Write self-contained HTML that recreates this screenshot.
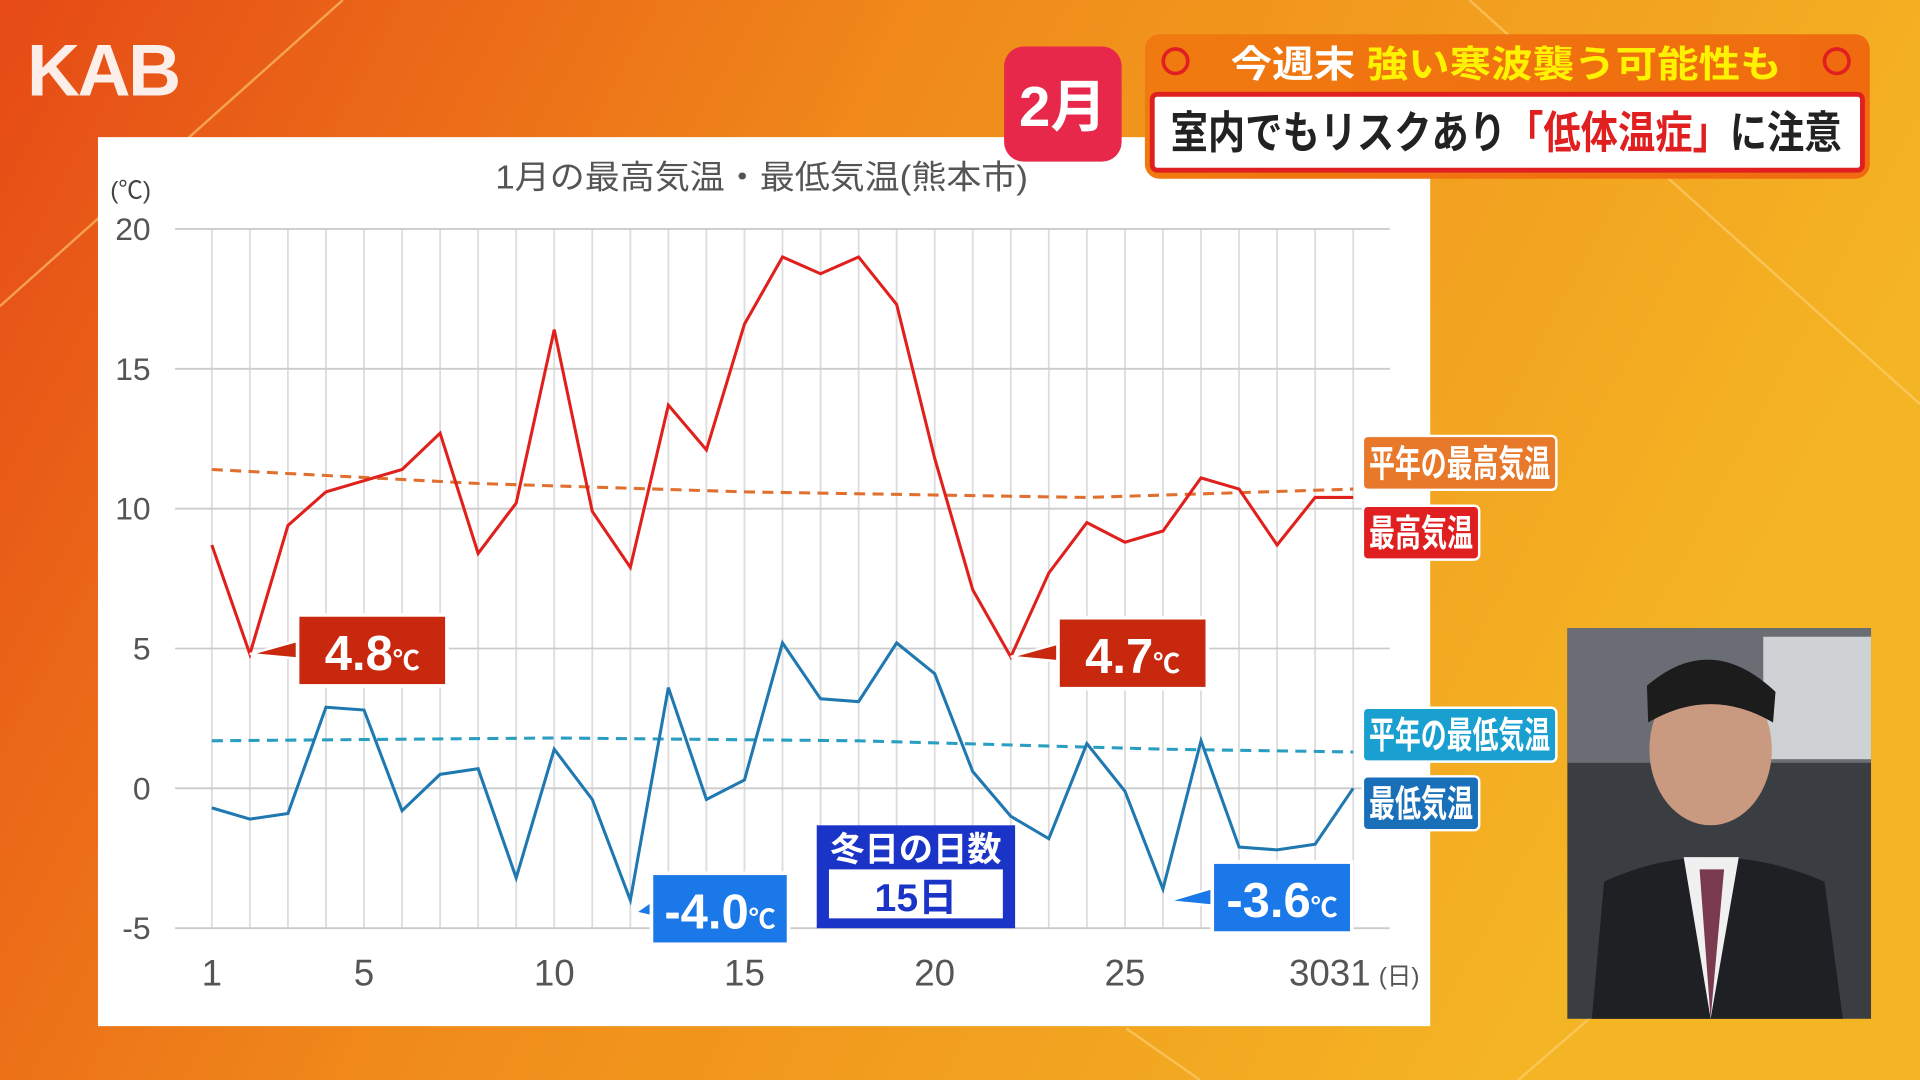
<!DOCTYPE html>
<html><head><meta charset="utf-8">
<style>
html,body{margin:0;padding:0;width:1920px;height:1080px;overflow:hidden;}
svg{display:block}
text{font-family:"Liberation Sans","Noto Sans CJK JP",sans-serif;}
</style></head>
<body>
<svg id="s" width="1920" height="1080" viewBox="0 0 1568 882" xmlns="http://www.w3.org/2000/svg">
<defs>
<linearGradient id="bg" x1="0" y1="0" x2="1" y2="0.3">
<stop offset="0" stop-color="#e64a16"/><stop offset="0.45" stop-color="#f08a1a"/><stop offset="1" stop-color="#f4b524"/>
</linearGradient>
<linearGradient id="strip" x1="0" y1="0" x2="1" y2="0">
<stop offset="0" stop-color="#f07a10"/><stop offset="1" stop-color="#f06a10"/>
</linearGradient>
</defs>
<rect width="1568" height="882" fill="url(#bg)"/>
<g stroke="#ffd27a" stroke-width="2" opacity="0.6" fill="none">
<line x1="0" y1="250" x2="280" y2="0"/><line x1="1200" y1="0" x2="1568" y2="330"/><line x1="920" y1="840" x2="980" y2="882"/><line x1="1240" y1="882" x2="1300" y2="830"/>
</g>
<text x="22" y="78" font-size="60" font-weight="bold" fill="#fff" opacity="0.9" letter-spacing="-2">KAB</text>
<rect x="80" y="112" width="1088" height="726" fill="#fff"/>
<g id="grid"></g>
<text x="90" y="162" font-size="20" fill="#444">(℃)</text>
<text x="622" y="154" font-size="27" fill="#555" text-anchor="middle" textLength="435" lengthAdjust="spacingAndGlyphs">1月の最高気温・最低気温(熊本市)</text>
<g id="plot"></g>
<text x="1126" y="804" font-size="20" fill="#555">(日)</text>
<!-- header -->
<rect x="820" y="38" width="96" height="94" rx="16" fill="#e8284a"/>
<text x="868" y="103" font-size="46" font-weight="bold" fill="#fff" text-anchor="middle">2月</text>
<rect x="935" y="28" width="592" height="118" rx="12" fill="url(#strip)"/>
<circle cx="960" cy="50" r="10" fill="none" stroke="#e02020" stroke-width="3"/>
<circle cx="1500" cy="50" r="10" fill="none" stroke="#e02020" stroke-width="3"/>
<text x="1005" y="63" font-size="30" font-weight="bold" fill="#fff" textLength="450" lengthAdjust="spacingAndGlyphs">今週末 <tspan fill="#fff200">強い寒波襲う可能性も</tspan></text>
<rect x="941" y="77" width="580" height="62" rx="4" fill="#fff" stroke="#e02020" stroke-width="4"/>
<text x="956" y="121" font-size="36" font-weight="bold" fill="#222" textLength="548" lengthAdjust="spacingAndGlyphs">室内でもリスクあり<tspan fill="#e02020">「低体温症」</tspan>に注意</text>
<!-- photo -->
<rect x="1280" y="513" width="248" height="319" fill="#3a3d42"/>
<rect x="1280" y="513" width="248" height="110" fill="#6a6e74"/>
<rect x="1440" y="520" width="88" height="100" fill="#cfd2d4"/>
<ellipse cx="1397" cy="612" rx="50" ry="62" fill="#c99a80"/>
<path d="M1345 560 Q1397 515 1450 565 L1448 590 Q1397 560 1346 590Z" fill="#1c1c1c"/>
<path d="M1300 832 L1310 720 Q1397 680 1490 720 L1505 832Z" fill="#1e2024"/>
<path d="M1375 700 L1397 832 L1420 700Z" fill="#f0f0f0"/>
<path d="M1388 710 L1397 832 L1408 710Z" fill="#7a3a50"/>
</svg>
<script>
const ns="http://www.w3.org/2000/svg";
const X=d=>173+(d-1)*31.07, Y=v=>187+(20-v)*22.84;
function el(t,a,p){const e=document.createElementNS(ns,t);for(const k in a)e.setAttribute(k,a[k]);(p||document.getElementById('plot')).appendChild(e);return e;}
const g=document.getElementById('grid');
for(let d=1;d<=31;d++)el('line',{x1:X(d),x2:X(d),y1:187,y2:758,stroke:'#ddd','stroke-width':1.5},g);
for(let v=-5;v<=20;v+=5){el('line',{x1:143,x2:1135,y1:Y(v),y2:Y(v),stroke:'#ccc','stroke-width':1.5},g);
 const t=el('text',{x:123,y:Y(v)+9,'font-size':26,fill:'#555','text-anchor':'end'},g);t.textContent=v;}
[1,5,10,15,20,25].forEach(d=>{const t=el('text',{x:X(d),y:805,'font-size':30,fill:'#555','text-anchor':'middle'},g);t.textContent=d;});
{const t=el('text',{x:1086,y:805,'font-size':30,fill:'#555','text-anchor':'middle'},g);t.textContent='3031';}
const mx=[8.7,4.8,9.4,10.6,11.0,11.4,12.7,8.4,10.2,16.4,9.9,7.9,13.7,12.1,16.6,19.0,18.4,19.0,17.3,11.8,7.1,4.7,7.7,9.5,8.8,9.2,11.1,10.7,8.7,10.4,10.4];
const mn=[-0.7,-1.1,-0.9,2.9,2.8,-0.8,0.5,0.7,-3.2,1.4,-0.4,-4.0,3.6,-0.4,0.3,5.2,3.2,3.1,5.2,4.1,0.6,-1.0,-1.8,1.6,-0.1,-3.6,1.7,-2.1,-2.2,-2.0,0.0];
const pts=a=>a.map((v,i)=>X(i+1)+','+Y(v)).join(' ');
el('polyline',{points:`${X(1)},${Y(11.4)} ${X(8)},${Y(10.9)} ${X(15)},${Y(10.6)} ${X(24)},${Y(10.4)} ${X(31)},${Y(10.7)}`,fill:'none',stroke:'#e07030','stroke-width':2.5,'stroke-dasharray':'9 6'});
el('polyline',{points:`${X(1)},${Y(1.7)} ${X(10)},${Y(1.8)} ${X(18)},${Y(1.7)} ${X(26)},${Y(1.4)} ${X(31)},${Y(1.3)}`,fill:'none',stroke:'#2a9ec0','stroke-width':2.5,'stroke-dasharray':'9 6'});
el('polyline',{points:pts(mx),fill:'none',stroke:'#e0201c','stroke-width':2.5});
el('polyline',{points:pts(mn),fill:'none',stroke:'#1f78b0','stroke-width':2.5});
function callout(x,y,w,bx,col,txt){
 el('polygon',{points:`${x},${y} ${bx+4},${y-12} ${bx+4},${y+4}`,fill:col,stroke:'#fff','stroke-width':2});
 el('rect',{x:bx,y:y-32,width:w,height:58,fill:col,stroke:'#fff','stroke-width':3});
 const t=el('text',{x:bx+w/2,y:y+13,'font-size':40,'font-weight':'bold',fill:'#fff','text-anchor':'middle'});t.innerHTML=txt;}
callout(X(2),Y(4.8),122,243,'#c8280e','4.8<tspan font-size="22">℃</tspan>');
callout(X(22),Y(4.7),122,864,'#c8280e','4.7<tspan font-size="22">℃</tspan>');
callout(X(12)+4,Y(-4.0)+10,112,532,'#1a78e8','-4.0<tspan font-size="22">℃</tspan>');
callout(X(26)+4,Y(-3.6)+10,114,990,'#1a78e8','-3.6<tspan font-size="22">℃</tspan>');
el('rect',{x:667,y:674,width:162,height:84,fill:'#1a34c8'});
el('rect',{x:677,y:710,width:142,height:40,fill:'#fff'});
let t=el('text',{x:748,y:703,'font-size':28,'font-weight':'bold',fill:'#fff','text-anchor':'middle'});t.textContent='冬日の日数';
t=el('text',{x:748,y:744,'font-size':32,'font-weight':'bold',fill:'#1a34c8','text-anchor':'middle'});t.textContent='15日';
function lab(x,y,w,col,txt){el('rect',{x:x,y:y,width:w,height:44,rx:4,fill:col,stroke:'#fff','stroke-width':2});
 const t=el('text',{x:x+5,y:y+33,'font-size':30,'font-weight':'bold',fill:'#fff',textLength:w-10,lengthAdjust:'spacingAndGlyphs'});t.textContent=txt;}
lab(1113,356,158,'#e8782a','平年の最高気温');
lab(1113,413,95,'#e02020','最高気温');
lab(1113,578,158,'#1aa0d0','平年の最低気温');
lab(1113,634,95,'#1a70b8','最低気温');
</script>
</body></html>
